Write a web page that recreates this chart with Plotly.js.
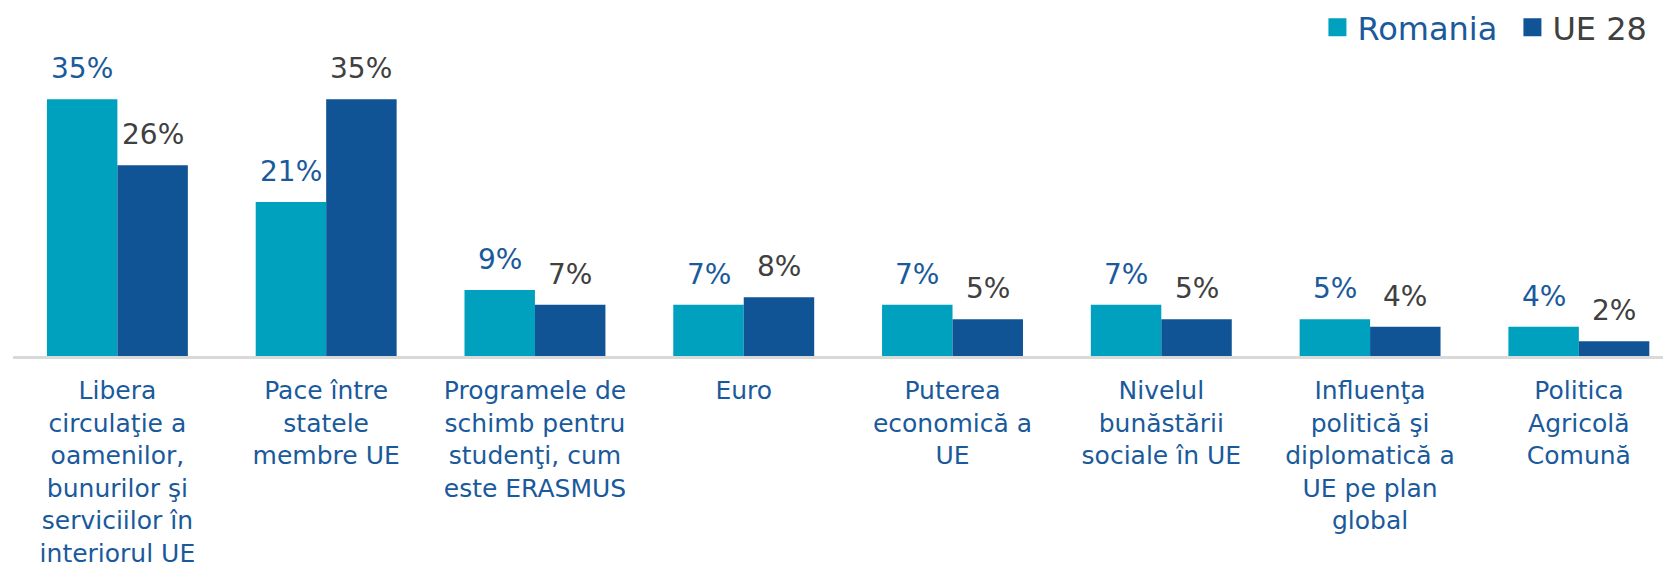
<!DOCTYPE html>
<html>
<head>
<meta charset="utf-8">
<script src="https://cdn.plot.ly/plotly-3.0.1.min.js"></script>
<style>html,body{margin:0;padding:0;background:#fff;}#chart{width:1663px;height:567px;}</style>
</head>
<body>
<div id="chart"></div>
<script>
const categories = [
  "Libera<br>circula\u0163ie a<br>oamenilor,<br>bunurilor \u015fi<br>serviciilor \u00een<br>interiorul UE",
  "Pace \u00eentre<br>statele<br>membre UE",
  "Programele de<br>schimb pentru<br>studen\u0163i, cum<br>este ERASMUS",
  "Euro",
  "Puterea<br>economic\u0103 a<br>UE",
  "Nivelul<br>bun\u0103st\u0103rii<br>sociale \u00een UE",
  "Influen\u0163a<br>politic\u0103 \u015fi<br>diplomatic\u0103 a<br>UE pe plan<br>global",
  "Politica<br>Agricol\u0103<br>Comun\u0103"
];
const romania = [35, 21, 9, 7, 7, 7, 5, 4];
const ue28 = [26, 35, 7, 8, 5, 5, 4, 2];
const seriesNames = ["Romania", "UE 28"];

const COL_RO = "#00a1be";
const COL_UE = "#105495";
const TXT_BLUE = "#1a5a9c";
const TXT_GRAY = "#404040";
const FONT = "DejaVu Sans, Verdana, sans-serif";
const BARGAP = 0.325;

const traces = [
  {
    type: "bar", x: categories, y: romania, name: seriesNames[0],
    marker: {color: COL_RO}, showlegend: false, hoverinfo: "skip"
  },
  {
    type: "bar", x: categories, y: ue28, name: seriesNames[1],
    marker: {color: COL_UE}, showlegend: false, hoverinfo: "skip"
  },
  {
    type: "scatter", mode: "markers", x: [null], y: [null],
    name: '<span style="color:' + TXT_BLUE + '">' + seriesNames[0] + '</span>',
    marker: {symbol: "square", size: 16, color: COL_RO, line: {width: 2, color: COL_RO}},
    showlegend: true, hoverinfo: "skip"
  },
  {
    type: "scatter", mode: "markers", x: [null], y: [null],
    name: seriesNames[1],
    marker: {symbol: "square", size: 16, color: COL_UE, line: {width: 2, color: COL_UE}},
    showlegend: true, hoverinfo: "skip"
  }
];

// value labels positioned through the category axis (index +/- quarter group width)
const half = (1 - BARGAP) / 4;
const annotations = [];
romania.forEach((v, i) => annotations.push({
  x: i - half, y: v, xref: "x", yref: "y", text: v + "%", showarrow: false,
  xanchor: "center", yanchor: "bottom", yshift: 12,
  font: {family: FONT, size: 28, color: TXT_BLUE}
}));
ue28.forEach((v, i) => annotations.push({
  x: i + half, y: v, xref: "x", yref: "y", text: v + "%", showarrow: false,
  xanchor: "center", yanchor: "bottom", yshift: 12,
  font: {family: FONT, size: 28, color: TXT_GRAY}
}));

const layout = {
  width: 1663, height: 567,
  margin: {l: 13, r: 0, t: 50, b: 211},
  paper_bgcolor: "#ffffff", plot_bgcolor: "#ffffff",
  barmode: "group", bargap: BARGAP, bargroupgap: 0,
  font: {family: FONT, color: TXT_GRAY},
  xaxis: {
    type: "category", range: [-0.5, 7.403],
    showline: true, linecolor: "#d9d9d9", linewidth: 3,
    ticks: "", showgrid: false, zeroline: false,
    tickfont: {family: FONT, size: 25, color: TXT_BLUE},
    ticklabelstandoff: 10,
    tickangle: 0, automargin: false
  },
  yaxis: {
    range: [0, 41.03], visible: false, showgrid: false, zeroline: false, fixedrange: true
  },
  annotations: annotations,
  showlegend: true,
  legend: {
    orientation: "h", x: 0.7922, xanchor: "left", xref: "container",
    y: 1, yanchor: "top", yref: "container",
    entrywidth: 150, entrywidthmode: "pixels",
    font: {family: FONT, size: 32, color: TXT_GRAY},
    bgcolor: "rgba(0,0,0,0)", traceorder: "normal"
  }
};

Plotly.newPlot("chart", traces, layout, {displayModeBar: false, staticPlot: true});
</script>
</body>
</html>
